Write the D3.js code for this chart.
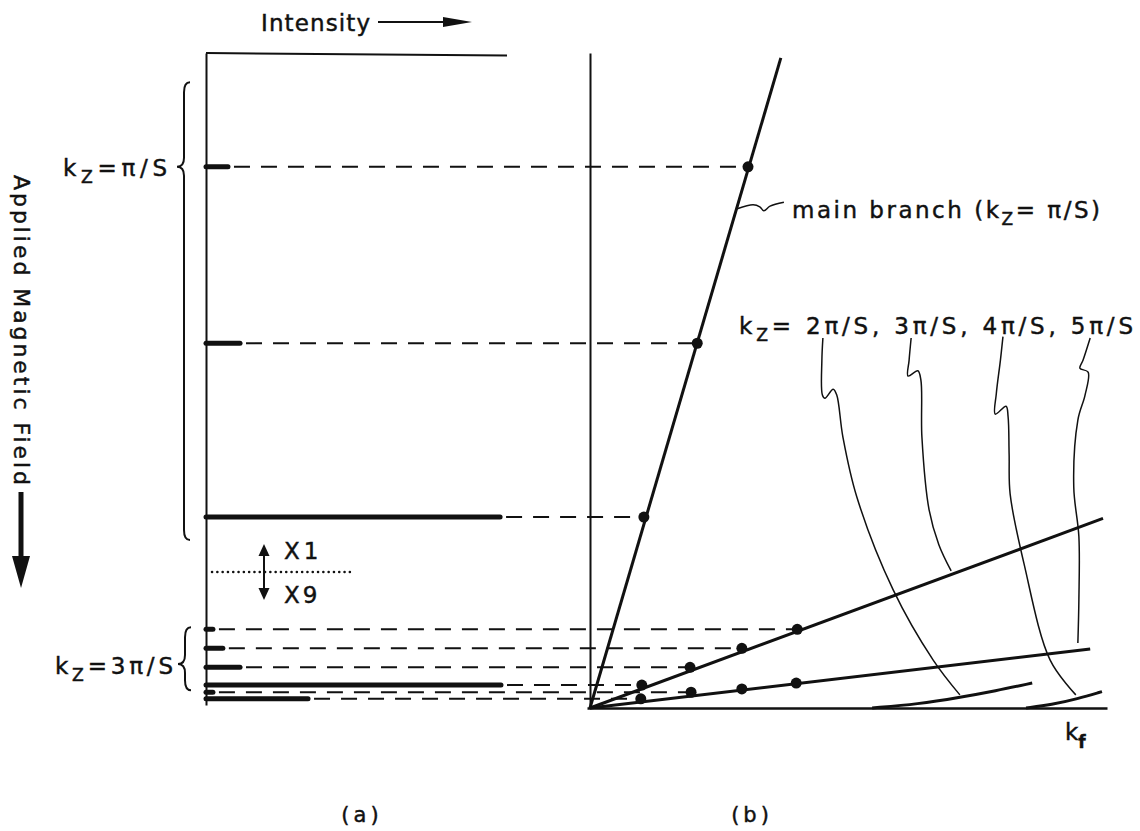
<!DOCTYPE html>
<html>
<head>
<meta charset="utf-8">
<script src="https://cdn.jsdelivr.net/npm/d3@7"></script>
<style>
  body { margin: 0; background: #fff; }
  svg { display: block; }
  text { font-family: "DejaVu Sans", sans-serif; fill: #111; stroke: #111; stroke-width: 0.45; }
</style>
</head>
<body>
<div id="chart"></div>
<script>
// peaks seen in panel (a): field position, intensity (bar length), kf where they land in (b)
let peakField     = [17.5, 44.4, 70.9, 88.0, 90.9, 93.8, 96.5, 97.6, 98.6];
let peakIntensity = [7.3, 11.3, 97.7, 2.3, 5.6, 11.3, 98.0, 2.3, 33.9];
let peakKf        = [30.8, 20.9, 10.5, 40.4, 29.6, 19.5, 10.1, 19.7, 9.9];

// extra dots on the lowest straight branch (no peak drawn for them)
let extraDotKf    = [29.6, 40.2];
let extraDotField = [97.1, 96.2];

// branches in panel (b), [kf, field]
let mainBranch  = [[0, 100], [37.2, 0.9]];
let branch2     = [[0, 100], [100, 71.1]];
let branch3     = [[0, 100], [97.5, 91.0]];
let branch4     = [[55, 100], [64, 99.4], [72, 98.4], [79, 97.4], [86.2, 96.2]];
let branch5     = [[85, 100], [90, 99.5], [95, 98.6], [99.8, 97.5]];

// leader lines from the labels, [kf, field]
let leaderMain = [[28.7, 23.9], [31.8, 23.3], [33.1, 23.6], [33.9, 24.2], [35.1, 23.5], [37.8, 22.9]];
let leader1 = [[45.4, 43.6], [45.2, 47.0], [45.3, 52.3], [45.8, 52.8], [47.4, 51.4], [48.1, 52.3], [49.3, 58.7], [52.0, 67.8], [59.1, 82.0], [66.9, 92.7], [72.1, 98.0]];
let leader2 = [[62.6, 43.6], [62.2, 47.0], [62.0, 49.4], [63.9, 48.6], [64.5, 50.0], [64.7, 58.7], [66.1, 69.8], [68.0, 75.1], [70.4, 79.1]];
let leader3 = [[80.5, 43.4], [80.0, 47.0], [79.2, 52.1], [79.0, 55.2], [81.1, 54.0], [81.5, 55.6], [81.7, 61.3], [81.9, 67.4], [84.6, 78.0], [89.7, 92.7], [94.7, 98.0]];
let leader4 = [[97.5, 43.6], [96.1, 47.0], [95.5, 48.2], [97.1, 48.8], [96.5, 52.3], [95.1, 56.1], [94.3, 66.3], [95.3, 73.9], [95.3, 83.5], [95.1, 90.1]];

let width = 1140, height = 831;

let svg = d3.select("#chart")
  .append("svg")
    .attr("width", width)
    .attr("height", height);

// scales
let intensity = d3.scaleLinear().domain([0, 100]).range([206, 507]);
let field = d3.scaleLinear().domain([0, 100]).range([52, 708]);
let kf = d3.scaleLinear().domain([0, 100]).range([590, 1103]);

// panel (a) frame: field axis on the left, intensity along the top
svg.append("g")
  .attr("transform", "translate(206,0)")
  .call(d3.axisLeft(field.copy().range([53, 705])).ticks(0).tickSizeOuter(0))
  .call(g => g.select(".domain").attr("stroke", "#111").attr("stroke-width", 2));
svg.append("line")
  .attr("x1", intensity(0)).attr("x2", intensity(100))
  .attr("y1", 53).attr("y2", 55.5)
  .attr("stroke", "#111").attr("stroke-width", 2);

// panel (b) frame
svg.append("g")
  .attr("transform", "translate(590,0)")
  .call(d3.axisLeft(field.copy().range([53, 708])).ticks(0).tickSizeOuter(0))
  .call(g => g.select(".domain").attr("stroke", "#111").attr("stroke-width", 2));
svg.append("g")
  .attr("transform", "translate(0,708)")
  .call(d3.axisBottom(kf.copy().range([587, 1107])).ticks(0).tickSizeOuter(0))
  .call(g => g.select(".domain").attr("stroke", "#111").attr("stroke-width", 2.5));

// dashed connectors from the end of each peak to its dot
svg.append("g").selectAll("line")
  .data(d3.range(peakField.length))
  .join("line")
    .attr("x1", i => intensity(peakIntensity[i]) + 6)
    .attr("x2", i => kf(peakKf[i]))
    .attr("y1", i => field(peakField[i]))
    .attr("y2", i => field(peakField[i]))
    .attr("stroke", "#111")
    .attr("stroke-width", 2)
    .attr("stroke-dasharray", "16,11");

// peaks (bars)
svg.append("g").selectAll("line")
  .data(d3.range(peakField.length))
  .join("line")
    .attr("x1", intensity(0))
    .attr("x2", i => intensity(peakIntensity[i]))
    .attr("y1", i => field(peakField[i]))
    .attr("y2", i => field(peakField[i]))
    .attr("stroke", "#111")
    .attr("stroke-width", 5)
    .attr("stroke-linecap", "round");

// branches
let line = d3.line()
  .x(d => kf(d[0]))
  .y(d => field(d[1]));
let curve = d3.line()
  .curve(d3.curveBasis)
  .x(d => kf(d[0]))
  .y(d => field(d[1]));

[mainBranch, branch2, branch3].forEach(b => {
  svg.append("path")
    .datum(b)
    .attr("fill", "none")
    .attr("stroke", "#111")
    .attr("stroke-width", 3)
    .attr("d", line);
});
[branch4, branch5].forEach(b => {
  svg.append("path")
    .datum(b)
    .attr("fill", "none")
    .attr("stroke", "#111")
    .attr("stroke-width", 3)
    .attr("d", curve);
});

// dots
svg.append("g").selectAll("circle")
  .data(d3.range(peakField.length))
  .join("circle")
    .attr("cx", i => kf(peakKf[i]))
    .attr("cy", i => field(peakField[i]))
    .attr("r", 5.5)
    .attr("fill", "#111");
svg.append("g").selectAll("circle")
  .data(extraDotKf)
  .join("circle")
    .attr("cx", d => kf(d))
    .attr("cy", (d, i) => field(extraDotField[i]))
    .attr("r", 5.5)
    .attr("fill", "#111");

// leader lines
let leader = d3.line()
  .curve(d3.curveCatmullRom)
  .x(d => kf(d[0]))
  .y(d => field(d[1]));
[leaderMain, leader1, leader2, leader3, leader4].forEach(l => {
  svg.append("path")
    .datum(l)
    .attr("fill", "none")
    .attr("stroke", "#111")
    .attr("stroke-width", 1.5)
    .attr("d", leader);
});

// braces
function brace(x, y0, y1, ym) {
  let xr = x + 13, xm = x + 7;
  return "M" + xr + "," + y0 +
    " Q" + xm + "," + y0 + " " + xm + "," + (y0 + 10) +
    " L" + xm + "," + (ym - 9) +
    " Q" + xm + "," + ym + " " + x + "," + ym +
    " Q" + xm + "," + ym + " " + xm + "," + (ym + 9) +
    " L" + xm + "," + (y1 - 10) +
    " Q" + xm + "," + y1 + " " + xr + "," + y1;
}
svg.append("path")
  .attr("d", brace(177, field(4.6), field(74.4), field(17.5)))
  .attr("fill", "none").attr("stroke", "#111").attr("stroke-width", 2);
svg.append("path")
  .attr("d", brace(178, field(87.7), field(97.3), field(93.3)))
  .attr("fill", "none").attr("stroke", "#111").attr("stroke-width", 2);

// X1 / X9 divider
svg.append("line")
  .attr("x1", 212).attr("x2", 354)
  .attr("y1", 572).attr("y2", 572)
  .attr("stroke", "#111").attr("stroke-width", 2.5)
  .attr("stroke-linecap", "round")
  .attr("stroke-dasharray", "0.1,5.2");
svg.append("line")
  .attr("x1", 264).attr("x2", 264)
  .attr("y1", 552).attr("y2", 592)
  .attr("stroke", "#111").attr("stroke-width", 2);
svg.append("path").attr("d", "M258.5,556 L264,544 L269.5,556 Z").attr("fill", "#111");
svg.append("path").attr("d", "M258.5,588 L264,600 L269.5,588 Z").attr("fill", "#111");
svg.append("text").attr("x", 284).attr("y", 559).attr("font-size", 23)
  .attr("letter-spacing", 4).text("X1");
svg.append("text").attr("x", 284).attr("y", 603).attr("font-size", 23)
  .attr("letter-spacing", 3).text("X9");

// Intensity label with arrow
svg.append("text")
  .attr("x", 261).attr("y", 31)
  .attr("font-size", 23)
  .attr("textLength", 109).attr("lengthAdjust", "spacing")
  .text("Intensity");
svg.append("line")
  .attr("x1", 378).attr("x2", 448)
  .attr("y1", 22).attr("y2", 22)
  .attr("stroke", "#111").attr("stroke-width", 2);
svg.append("path").attr("d", "M443,17 L472,22 L443,27 Z").attr("fill", "#111");

// Applied Magnetic Field label with heavy arrow
svg.append("text")
  .attr("transform", "translate(14,175) rotate(90)")
  .attr("font-size", 22)
  .attr("textLength", 310).attr("lengthAdjust", "spacing")
  .text("Applied Magnetic Field");
svg.append("line")
  .attr("x1", 21).attr("x2", 21)
  .attr("y1", 492).attr("y2", 562)
  .attr("stroke", "#111").attr("stroke-width", 5);
svg.append("path").attr("d", "M12,556 L30,556 L21,588 Z").attr("fill", "#111");

// kz labels
function kzLabel(g, rest, fs) {
  g.append("tspan").text("k");
  g.append("tspan").attr("dy", 7).attr("font-size", fs * 0.75).text("Z");
  g.append("tspan").attr("dy", -7).text(rest);
}
let lab1 = svg.append("text")
  .attr("x", 63).attr("y", 176).attr("font-size", 23)
  .attr("textLength", 104).attr("lengthAdjust", "spacing");
kzLabel(lab1, "=π/S", 23);

let lab2 = svg.append("text")
  .attr("x", 55).attr("y", 674).attr("font-size", 23)
  .attr("textLength", 118).attr("lengthAdjust", "spacing");
kzLabel(lab2, "=3π/S", 23);

let lab3 = svg.append("text")
  .attr("x", 792).attr("y", 218).attr("font-size", 23)
  .attr("textLength", 308).attr("lengthAdjust", "spacing");
lab3.append("tspan").text("main branch (k");
lab3.append("tspan").attr("dy", 7).attr("font-size", 17).text("Z");
lab3.append("tspan").attr("dy", -7).text("= π/S)");

let lab4 = svg.append("text")
  .attr("x", 739).attr("y", 334).attr("font-size", 23)
  .attr("textLength", 394).attr("lengthAdjust", "spacing");
kzLabel(lab4, "= 2π/S, 3π/S, 4π/S, 5π/S", 23);

// kf axis label
let kfLab = svg.append("text").attr("x", 1065).attr("y", 740).attr("font-size", 23);
kfLab.append("tspan").text("k");
kfLab.append("tspan").attr("dy", 8).attr("font-size", 17).attr("font-weight", "bold").text("f");

// panel letters
svg.append("text").attr("x", 362).attr("y", 822).attr("font-size", 21)
  .attr("text-anchor", "middle").attr("letter-spacing", 4).text("(a)");
svg.append("text").attr("x", 752).attr("y", 822).attr("font-size", 21)
  .attr("text-anchor", "middle").attr("letter-spacing", 4).text("(b)");
</script>
</body>
</html>
